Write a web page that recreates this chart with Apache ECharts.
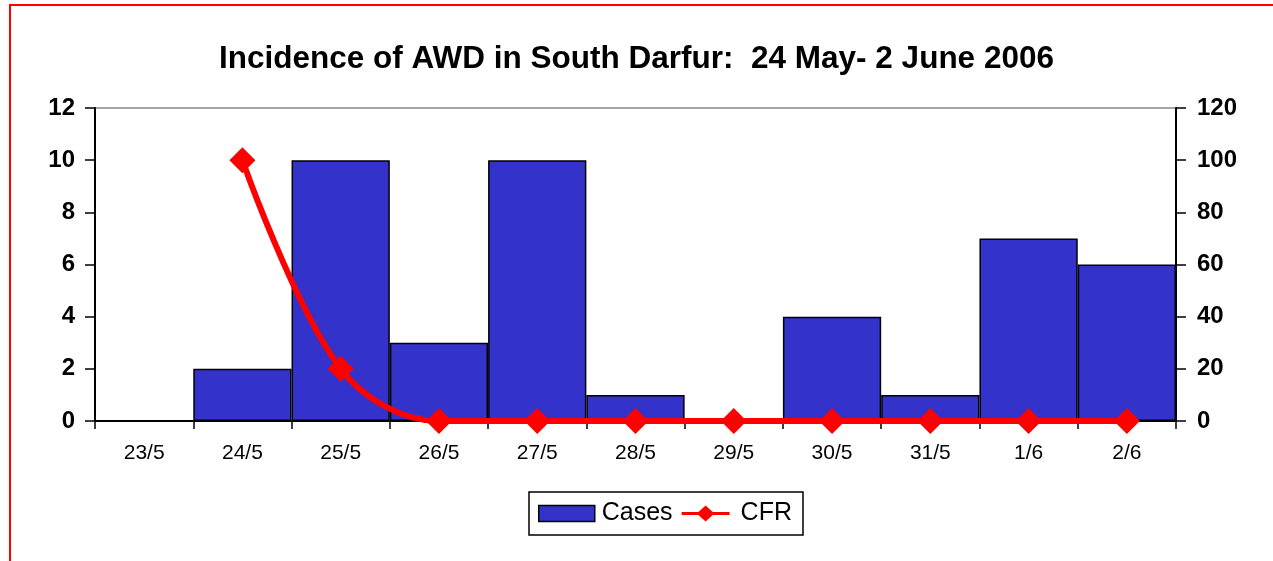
<!DOCTYPE html>
<html>
<head>
<meta charset="utf-8">
<script src="https://cdn.jsdelivr.net/npm/echarts@6/dist/echarts.min.js"></script>
<style>
  html, body { margin: 0; padding: 0; background: #fff; }
  .frame { position: absolute; left: 9px; top: 4px; width: 1300px; height: 600px; border: 2px solid #ff0000; }
  .chart { position: absolute; left: 0; top: 0; width: 1273px; height: 561px; }
</style>
</head>
<body>
<div class="frame"></div>
<div class="chart"></div>
<script>
// data
const days = ['23/5', '24/5', '25/5', '26/5', '27/5', '28/5', '29/5', '30/5', '31/5', '1/6', '2/6'];
const cases = [0, 2, 10, 3, 10, 1, 0, 4, 1, 7, 6];
const cfr = [null, 100, 20, 0, 0, 0, 0, 0, 0, 0, 0];

let chart = echarts.init(document.querySelector('.chart'));
chart.setOption({
    animation: false,
    textStyle: { fontFamily: 'Liberation Sans, Arial, sans-serif' },
    title: {
        text: 'Incidence of AWD in South Darfur:  24 May- 2 June 2006',
        left: 'center',
        top: 38,
        textStyle: { fontSize: 31.5, fontWeight: 'bold', color: '#000' }
    },
    grid: {
        left: 95, right: 97, top: 108, bottom: 140,
        show: true, borderColor: '#888', borderWidth: 1.5
    },
    legend: {
        left: 529, top: 492,
        padding: [9, 11, 9, 9],
        borderColor: '#000', borderWidth: 1.5,
        itemWidth: 56, itemHeight: 16, itemGap: 9,
        textStyle: { fontSize: 25, color: '#000', padding: [0, 0, 0, 2] },
        data: [
            { name: 'Cases', icon: 'rect', itemStyle: { borderColor: '#000', borderWidth: 1.5 } },
            {
                name: 'CFR',
                // line with a diamond in the middle, as in the reference key
                icon: 'path://M0,8 L21,8 L30,0 L39,8 L60,8 L60,12 L39,12 L30,20 L21,12 L0,12 Z',
                itemStyle: { color: '#ff0000' }
            }
        ]
    },
    xAxis: {
        type: 'category',
        data: days,
        axisLine: { lineStyle: { color: '#000', width: 2 } },
        axisTick: { show: true, length: 8, lineStyle: { color: '#000', width: 1.5 } },
        axisLabel: { fontSize: 21, color: '#000', margin: 22 }
    },
    yAxis: [
        {
            type: 'value', min: 0, max: 12, interval: 2,
            axisLine: { show: true, lineStyle: { color: '#000', width: 2 } },
            axisTick: { show: true, length: 10, lineStyle: { color: '#000', width: 1.5 } },
            axisLabel: { fontSize: 24, fontWeight: 'bold', color: '#000', margin: 20 },
            splitLine: { show: false }
        },
        {
            type: 'value', min: 0, max: 120, interval: 20, position: 'right',
            axisLine: { show: true, lineStyle: { color: '#000', width: 2 } },
            axisTick: { show: true, length: 10, lineStyle: { color: '#000', width: 1.5 } },
            axisLabel: { fontSize: 24, fontWeight: 'bold', color: '#000', margin: 21 },
            splitLine: { show: false }
        }
    ],
    series: [
        {
            name: 'Cases',
            type: 'bar',
            data: cases,
            barCategoryGap: '0%',
            itemStyle: { color: '#3333cc', borderColor: '#000', borderWidth: 1.5 }
        },
        {
            name: 'CFR',
            type: 'line',
            yAxisIndex: 1,
            data: cfr,
            smooth: 0.35,
            symbol: 'diamond',
            symbolSize: 26,
            lineStyle: { color: '#ff0000', width: 6 },
            itemStyle: { color: '#ff0000' }
        }
    ]
});
window.addEventListener('resize', function () {
    chart.resize();
});
</script>
</body>
</html>
